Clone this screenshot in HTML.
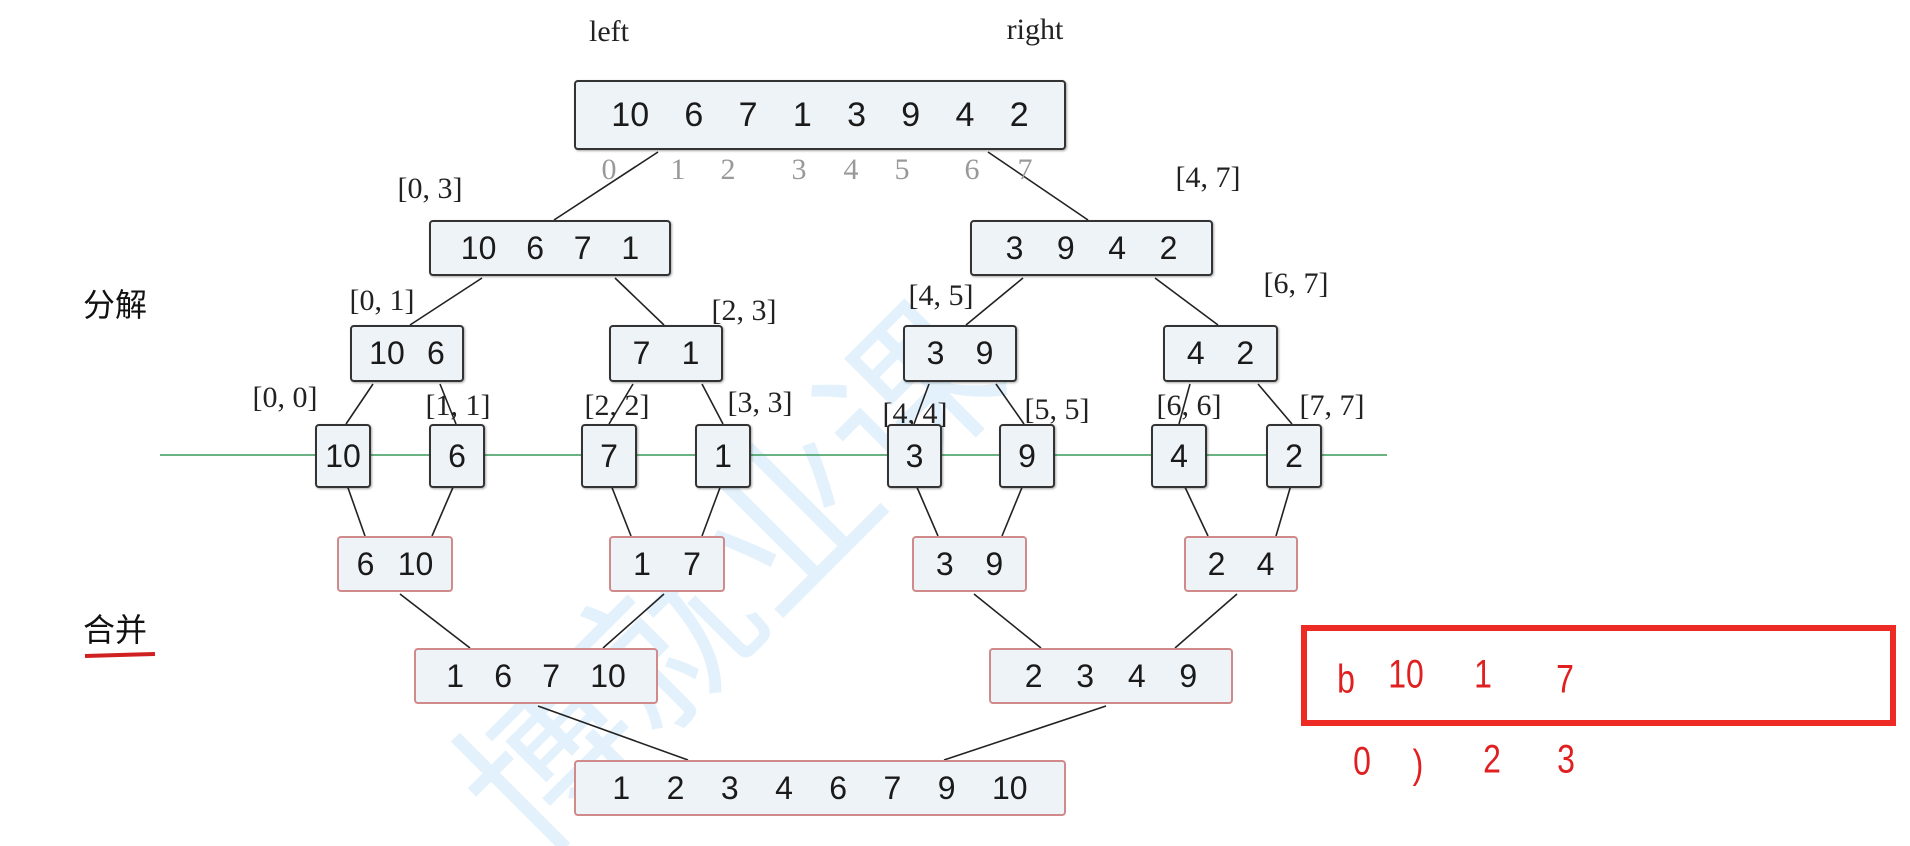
<!DOCTYPE html>
<html style="overflow:hidden;height:846px"><head><meta charset="utf-8"><style>
body{margin:0;width:1910px;height:846px;background:#fff;position:relative;overflow:hidden;font-family:"Liberation Sans",sans-serif}
.b{position:absolute;box-sizing:border-box;background:#eef3f8;border:2px solid #333;border-radius:4px;box-shadow:1px 1px 2px rgba(0,0,0,.35);display:flex;justify-content:space-evenly;align-items:center;font-size:32px;color:#1a1a1a}
.s{justify-content:space-around;padding:0 6px}
.r{border:2px solid #d08a8a;box-shadow:none}
.t{position:absolute;font-family:"Liberation Serif",serif;font-size:30px;color:#222;white-space:nowrap;transform:translate(-50%,-50%)}
.g{color:#999}
.cn{position:absolute;font-family:"Liberation Sans","Noto Sans CJK SC",sans-serif;font-size:32px;color:#111}
.h{position:absolute;color:#e02020;font-family:"Liberation Sans",sans-serif;font-size:40px;transform:translate(-50%,-50%) scaleX(.8)}
</style></head><body>
<div style="position:absolute;left:540px;top:700px;font-family:'Noto Sans CJK SC',sans-serif;font-size:170px;line-height:1;color:#e2f1fb;transform:rotate(-45deg);transform-origin:0 100%;white-space:nowrap">博就业课</div>
<svg width="1910" height="846" style="position:absolute;left:0;top:0" stroke="#222" stroke-width="1.6">
<line x1="160" y1="455" x2="1387" y2="455" stroke="#3a9a5a" stroke-width="1.5"/>
<line x1="658" y1="152" x2="554" y2="220"/><line x1="988" y1="152" x2="1088" y2="220"/>
<line x1="482" y1="278" x2="410" y2="325"/><line x1="615" y1="278" x2="664" y2="325"/>
<line x1="1023" y1="278" x2="966" y2="325"/><line x1="1155" y1="278" x2="1218" y2="325"/>
<line x1="373" y1="384" x2="346" y2="424"/><line x1="440" y1="384" x2="456" y2="424"/>
<line x1="633" y1="384" x2="609" y2="424"/><line x1="702" y1="384" x2="723" y2="424"/>
<line x1="929" y1="384" x2="914" y2="424"/><line x1="996" y1="384" x2="1024" y2="424"/>
<line x1="1190" y1="384" x2="1179" y2="424"/><line x1="1258" y1="384" x2="1292" y2="424"/>
<line x1="347" y1="485" x2="365" y2="536"/><line x1="454" y1="485" x2="432" y2="536"/>
<line x1="611" y1="485" x2="631" y2="536"/><line x1="721" y1="485" x2="702" y2="536"/>
<line x1="916" y1="485" x2="938" y2="536"/><line x1="1023" y1="485" x2="1002" y2="536"/>
<line x1="1184" y1="485" x2="1208" y2="536"/><line x1="1291" y1="485" x2="1276" y2="536"/>
<line x1="400" y1="594" x2="470" y2="648"/><line x1="664" y1="594" x2="603" y2="648"/>
<line x1="974" y1="594" x2="1041" y2="648"/><line x1="1237" y1="594" x2="1175" y2="648"/>
<line x1="538" y1="706" x2="688" y2="760"/><line x1="1106" y1="706" x2="944" y2="760"/>
<line x1="85" y1="656" x2="155" y2="654" stroke="#d02020" stroke-width="4"/>
<rect x="1304" y="628" width="589" height="95" fill="none" stroke="#ee2a24" stroke-width="6"/>
</svg>
<div class="t" style="left:609px;top:32px">left</div>
<div class="t" style="left:1035px;top:30px">right</div>
<div class="b" style="left:574px;top:80px;width:492px;height:70px;font-size:34px"><span>10</span><span>6</span><span>7</span><span>1</span><span>3</span><span>9</span><span>4</span><span>2</span></div>
<div class="t g" style="left:609px;top:170px">0</div><div class="t g" style="left:678px;top:170px">1</div><div class="t g" style="left:728px;top:170px">2</div><div class="t g" style="left:799px;top:170px">3</div><div class="t g" style="left:851px;top:170px">4</div><div class="t g" style="left:902px;top:170px">5</div><div class="t g" style="left:972px;top:170px">6</div><div class="t g" style="left:1025px;top:170px">7</div>
<div class="t" style="left:430px;top:189px">[0, 3]</div>
<div class="t" style="left:1208px;top:178px">[4, 7]</div>
<div class="b" style="left:429px;top:220px;width:242px;height:56px"><span>10</span><span>6</span><span>7</span><span>1</span></div>
<div class="b" style="left:970px;top:220px;width:243px;height:56px"><span>3</span><span>9</span><span>4</span><span>2</span></div>
<div class="cn" style="left:83px;top:280px">分解</div>
<div class="t" style="left:382px;top:301px">[0, 1]</div>
<div class="t" style="left:744px;top:311px">[2, 3]</div>
<div class="t" style="left:941px;top:296px">[4, 5]</div>
<div class="t" style="left:1296px;top:284px">[6, 7]</div>
<div class="b s" style="left:350px;top:325px;width:114px;height:57px"><span>10</span><span>6</span></div>
<div class="b s" style="left:609px;top:325px;width:114px;height:57px"><span>7</span><span>1</span></div>
<div class="b s" style="left:903px;top:325px;width:114px;height:57px"><span>3</span><span>9</span></div>
<div class="b s" style="left:1163px;top:325px;width:115px;height:57px"><span>4</span><span>2</span></div>
<div class="t" style="left:285px;top:398px">[0, 0]</div>
<div class="t" style="left:458px;top:406px">[1, 1]</div>
<div class="t" style="left:617px;top:406px">[2, 2]</div>
<div class="t" style="left:760px;top:403px">[3, 3]</div>
<div class="t" style="left:915px;top:414px">[4, 4]</div>
<div class="t" style="left:1057px;top:410px">[5, 5]</div>
<div class="t" style="left:1189px;top:406px">[6, 6]</div>
<div class="t" style="left:1332px;top:406px">[7, 7]</div>
<div class="b" style="left:315px;top:424px;width:56px;height:64px">10</div>
<div class="b" style="left:429px;top:424px;width:56px;height:64px">6</div>
<div class="b" style="left:581px;top:424px;width:56px;height:64px">7</div>
<div class="b" style="left:695px;top:424px;width:56px;height:64px">1</div>
<div class="b" style="left:887px;top:424px;width:55px;height:64px">3</div>
<div class="b" style="left:999px;top:424px;width:56px;height:64px">9</div>
<div class="b" style="left:1151px;top:424px;width:56px;height:64px">4</div>
<div class="b" style="left:1266px;top:424px;width:56px;height:64px">2</div>
<div class="b r s" style="left:337px;top:536px;width:116px;height:56px"><span>6</span><span>10</span></div>
<div class="b r s" style="left:609px;top:536px;width:116px;height:56px"><span>1</span><span>7</span></div>
<div class="b r s" style="left:912px;top:536px;width:115px;height:56px"><span>3</span><span>9</span></div>
<div class="b r s" style="left:1184px;top:536px;width:114px;height:56px"><span>2</span><span>4</span></div>
<div class="cn" style="left:83px;top:605px">合并</div>
<div class="b r" style="left:414px;top:648px;width:244px;height:56px"><span>1</span><span>6</span><span>7</span><span>10</span></div>
<div class="b r" style="left:989px;top:648px;width:244px;height:56px"><span>2</span><span>3</span><span>4</span><span>9</span></div>
<div class="b r" style="left:574px;top:760px;width:492px;height:56px"><span>1</span><span>2</span><span>3</span><span>4</span><span>6</span><span>7</span><span>9</span><span>10</span></div>
<div class="h" style="left:1346px;top:680px">b</div>
<div class="h" style="left:1406px;top:675px">10</div>
<div class="h" style="left:1483px;top:675px">1</div>
<div class="h" style="left:1565px;top:680px">7</div>
<div class="h" style="left:1362px;top:762px">0</div>
<div class="h" style="left:1418px;top:765px">)</div>
<div class="h" style="left:1492px;top:760px">2</div>
<div class="h" style="left:1566px;top:760px">3</div>
</body></html>
